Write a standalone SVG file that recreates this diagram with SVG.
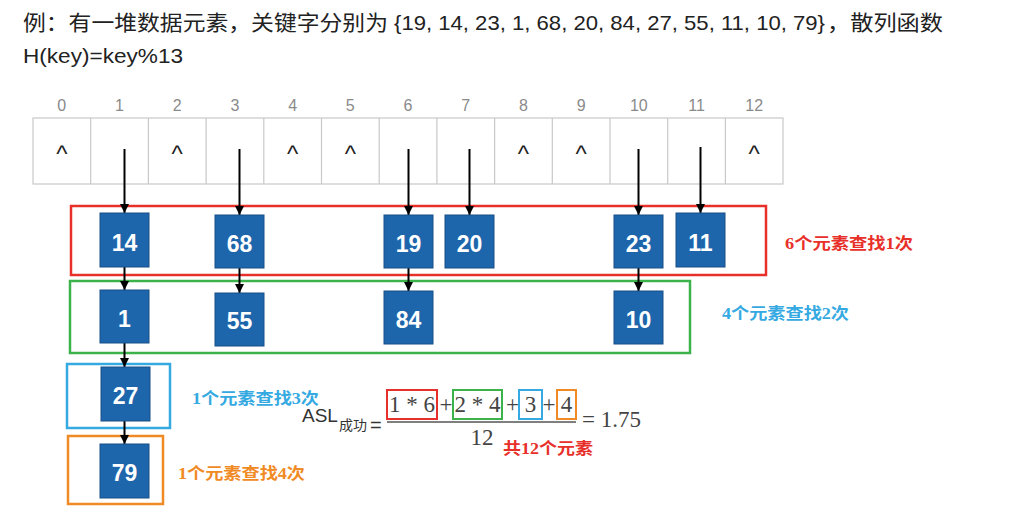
<svg xmlns="http://www.w3.org/2000/svg" width="1033" height="522" viewBox="0 0 1033 522">
  <style>
    .hdr { font-family: "Liberation Sans", "Noto Sans CJK SC", sans-serif; font-size: 21px; fill: #222; }
    .idx { font-family: "Liberation Sans", sans-serif; font-size: 16px; fill: #8a8a8a; text-anchor: middle; }
    .car { font-family: "Liberation Sans", sans-serif; font-size: 24px; fill: #222; text-anchor: middle; }
    .cell { fill: #fff; stroke: #c8c8c8; stroke-width: 1.2; }
    .node rect { fill: #1e66ac; stroke: #174f86; stroke-width: 1; }
    .node text { font-family: "Liberation Sans", sans-serif; font-weight: bold; font-size: 23px; fill: #fff; text-anchor: middle; }
    .conn line { stroke: #000; stroke-width: 2; }
    .grp { fill: none; stroke-width: 2.5; }
    .lbl { font-family: "Liberation Serif", "Noto Sans CJK SC", serif; font-weight: bold; font-size: 16px; }
    .math { font-family: "Liberation Serif", serif; font-size: 23px; fill: #444; text-anchor: middle; }
    .fbox { fill: none; stroke-width: 2; }
  </style>
  <defs>
    <marker id="ah" markerUnits="userSpaceOnUse" markerWidth="10" markerHeight="9" refX="9" refY="4.5" orient="auto">
      <path d="M0,0 L9,4.5 L0,9 Z" fill="#000"/>
    </marker>
  </defs>
  <rect width="1033" height="522" fill="#fff"/>

  <!-- header -->
  <g id="header">
    <text class="hdr" x="23" y="30" textLength="365" lengthAdjust="spacingAndGlyphs">例：有一堆数据元素，关键字分别为</text>
    <text class="hdr" x="394" y="30" textLength="431" lengthAdjust="spacingAndGlyphs">{19, 14, 23, 1, 68, 20, 84, 27, 55, 11, 10, 79}</text>
    <text class="hdr" x="827" y="30" textLength="116" lengthAdjust="spacingAndGlyphs">，散列函数</text>
    <text class="hdr" x="23" y="63" textLength="160" lengthAdjust="spacingAndGlyphs">H(key)=key%13</text>
  </g>

  <!-- hash table -->
  <g id="table">
    <rect class="cell" x="33" y="118" width="750" height="66"/>
    <line class="cell" x1="90.7" y1="118" x2="90.7" y2="184"/>
    <line class="cell" x1="148.4" y1="118" x2="148.4" y2="184"/>
    <line class="cell" x1="206.1" y1="118" x2="206.1" y2="184"/>
    <line class="cell" x1="263.8" y1="118" x2="263.8" y2="184"/>
    <line class="cell" x1="321.5" y1="118" x2="321.5" y2="184"/>
    <line class="cell" x1="379.2" y1="118" x2="379.2" y2="184"/>
    <line class="cell" x1="436.9" y1="118" x2="436.9" y2="184"/>
    <line class="cell" x1="494.6" y1="118" x2="494.6" y2="184"/>
    <line class="cell" x1="552.3" y1="118" x2="552.3" y2="184"/>
    <line class="cell" x1="610" y1="118" x2="610" y2="184"/>
    <line class="cell" x1="667.7" y1="118" x2="667.7" y2="184"/>
    <line class="cell" x1="725.4" y1="118" x2="725.4" y2="184"/>
    <text class="idx" x="61.8" y="111">0</text>
    <text class="idx" x="119.5" y="111">1</text>
    <text class="idx" x="177.2" y="111">2</text>
    <text class="idx" x="234.9" y="111">3</text>
    <text class="idx" x="292.6" y="111">4</text>
    <text class="idx" x="350.3" y="111">5</text>
    <text class="idx" x="408" y="111">6</text>
    <text class="idx" x="465.7" y="111">7</text>
    <text class="idx" x="523.4" y="111">8</text>
    <text class="idx" x="581.1" y="111">9</text>
    <text class="idx" x="638.8" y="111">10</text>
    <text class="idx" x="696.5" y="111">11</text>
    <text class="idx" x="754.2" y="111">12</text>
    <text class="car" x="61.8" y="162">^</text>
    <text class="car" x="177.2" y="162">^</text>
    <text class="car" x="292.6" y="162">^</text>
    <text class="car" x="350.3" y="162">^</text>
    <text class="car" x="523.4" y="162">^</text>
    <text class="car" x="581.1" y="162">^</text>
    <text class="car" x="754.2" y="162">^</text>
  </g>

  <!-- group frames -->
  <g id="frames">
    <rect class="grp" x="71" y="206" width="695" height="69" stroke="#e8302a"/>
    <rect class="grp" x="70" y="281" width="620" height="72" stroke="#3cb34a"/>
    <rect class="grp" x="67" y="364" width="103" height="64" stroke="#35a9e1"/>
    <rect class="grp" x="68" y="436" width="95" height="68" stroke="#f08a24"/>
  </g>

  <!-- connectors -->
  <g id="connectors" class="conn">
    <line x1="124.5" y1="149" x2="124.5" y2="213" marker-end="url(#ah)"/>
    <line x1="239.5" y1="149" x2="239.5" y2="215" marker-end="url(#ah)"/>
    <line x1="408.5" y1="149" x2="408.5" y2="215" marker-end="url(#ah)"/>
    <line x1="469.5" y1="149" x2="469.5" y2="215" marker-end="url(#ah)"/>
    <line x1="638.5" y1="149" x2="638.5" y2="215" marker-end="url(#ah)"/>
    <line x1="700.5" y1="147" x2="700.5" y2="213" marker-end="url(#ah)"/>
    <line x1="124.5" y1="267" x2="124.5" y2="290" marker-end="url(#ah)"/>
    <line x1="239.5" y1="268" x2="239.5" y2="293" marker-end="url(#ah)"/>
    <line x1="408.5" y1="268" x2="408.5" y2="291" marker-end="url(#ah)"/>
    <line x1="638.5" y1="268" x2="638.5" y2="291" marker-end="url(#ah)"/>
    <line x1="124.5" y1="343" x2="124.5" y2="367" marker-end="url(#ah)"/>
    <line x1="124.5" y1="421" x2="124.5" y2="444" marker-end="url(#ah)"/>
  </g>

  <!-- nodes -->
  <g id="n14" class="node"><rect x="100" y="213" width="49" height="54"/><text x="124.5" y="251">14</text></g>
  <g id="n68" class="node"><rect x="215" y="215" width="49" height="53"/><text x="239.5" y="252">68</text></g>
  <g id="n19" class="node"><rect x="384" y="215" width="49" height="53"/><text x="408.5" y="252">19</text></g>
  <g id="n20" class="node"><rect x="445" y="215" width="49" height="53"/><text x="469.5" y="252">20</text></g>
  <g id="n23" class="node"><rect x="614" y="215" width="49" height="53"/><text x="638.5" y="252">23</text></g>
  <g id="n11" class="node"><rect x="676" y="213" width="49" height="54"/><text x="700.5" y="251">11</text></g>
  <g id="n1" class="node"><rect x="100" y="290" width="49" height="53"/><text x="124.5" y="327">1</text></g>
  <g id="n55" class="node"><rect x="215" y="293" width="49" height="53"/><text x="239.5" y="329">55</text></g>
  <g id="n84" class="node"><rect x="384" y="291" width="49" height="53"/><text x="408.5" y="328">84</text></g>
  <g id="n10" class="node"><rect x="614" y="291" width="49" height="53"/><text x="638.5" y="328">10</text></g>
  <g id="n27" class="node"><rect x="101" y="367" width="49" height="54"/><text x="125.5" y="404">27</text></g>
  <g id="n79" class="node"><rect x="100" y="444" width="49" height="54"/><text x="124.5" y="481">79</text></g>

  <!-- labels -->
  <g id="labels">
    <text class="lbl" x="785" y="249" fill="#e8302a" textLength="128" lengthAdjust="spacingAndGlyphs">6个元素查找1次</text>
    <text class="lbl" x="722" y="319" fill="#35a9e1" textLength="127" lengthAdjust="spacingAndGlyphs">4个元素查找2次</text>
    <text class="lbl" x="192" y="404" fill="#35a9e1" textLength="127" lengthAdjust="spacingAndGlyphs">1个元素查找3次</text>
    <text class="lbl" x="178" y="479" fill="#f08a24" textLength="127" lengthAdjust="spacingAndGlyphs">1个元素查找4次</text>
  </g>

  <!-- formula -->
  <g id="formula">
    <text x="302" y="422" font-family="Liberation Sans, sans-serif" font-size="19" fill="#333">ASL</text>
    <text x="339" y="430" font-family="Noto Sans CJK SC, sans-serif" font-size="14" fill="#333">成功</text>
    <text x="370" y="432" font-family="Liberation Sans, sans-serif" font-size="20" fill="#333">=</text>
    <line x1="387" y1="422" x2="576" y2="422" stroke="#555" stroke-width="1.5"/>
    <rect class="fbox" x="387" y="390" width="50" height="29" stroke="#e8302a"/>
    <rect class="fbox" x="453" y="390" width="49" height="29" stroke="#3cb34a"/>
    <rect class="fbox" x="519" y="390" width="23" height="29" stroke="#35a9e1"/>
    <rect class="fbox" x="557" y="390" width="19" height="29" stroke="#f08a24"/>
    <text class="math" x="412" y="412">1 * 6</text>
    <text class="math" x="446" y="412">+</text>
    <text class="math" x="477.5" y="412">2 * 4</text>
    <text class="math" x="512.5" y="412">+</text>
    <text class="math" x="530.5" y="412">3</text>
    <text class="math" x="549" y="412">+</text>
    <text class="math" x="566.5" y="412">4</text>
    <text class="math" x="482" y="445">12</text>
    <text class="math" x="582" y="427" font-size="23" style="text-anchor:start">= 1.75</text>
    <text class="lbl" x="503" y="454" fill="#e8302a" textLength="90" lengthAdjust="spacingAndGlyphs">共12个元素</text>
  </g>
</svg>
